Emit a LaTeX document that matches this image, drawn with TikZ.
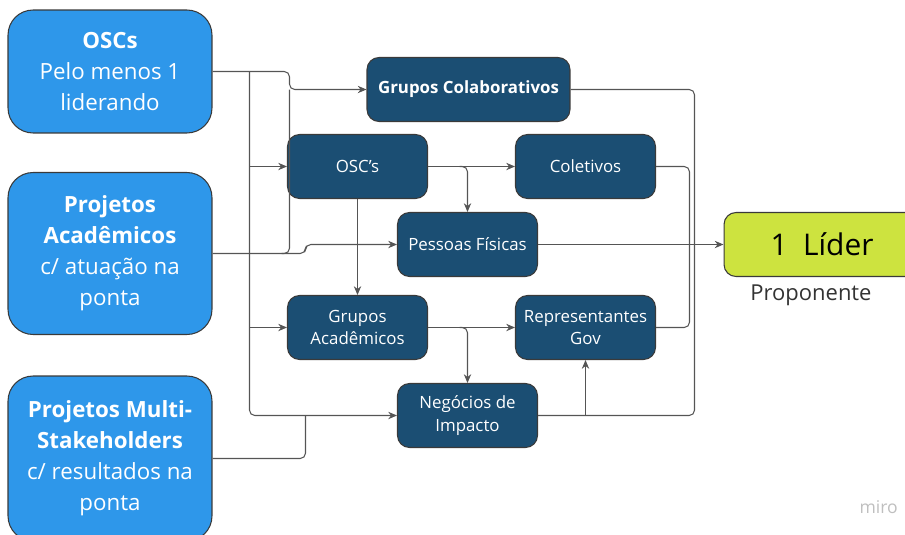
\documentclass[tikz,border=0pt]{standalone}
\usepackage{fontspec}
\setmainfont{Open Sans}
\usepackage{xcolor}
\usepackage{tikz}
\usetikzlibrary{positioning,calc,arrows.meta}

\definecolor{srcblue}{RGB}{46,151,234}
\definecolor{boxblue}{RGB}{27,78,115}
\definecolor{limegreen}{RGB}{205,227,63}
\definecolor{edgegray}{RGB}{58,58,58}
\definecolor{linkgray}{RGB}{85,85,85}

\tikzset{
    srcbox/.style={draw=edgegray, fill=srcblue, line width=0.6pt, rounded corners=0.5cm,
        minimum width=4.08cm, inner sep=0pt, text=white, align=center,
        font=\fontsize{12.7pt}{17.6pt}\selectfont},
    midbox/.style={draw=edgegray, fill=boxblue, line width=0.6pt, rounded corners=0.24cm,
        minimum width=2.8cm, minimum height=1.28cm, inner sep=0pt, text=white, align=center,
        font=\fontsize{9.6pt}{13pt}\selectfont},
    link/.style={draw=linkgray, line width=0.6pt, rounded corners=3pt},
    linkto/.style={link, -{Stealth[length=5pt,width=4.2pt]}}
}

\begin{document}
\begin{tikzpicture}[x=0.02cm, y=-0.02cm]
    \useasboundingbox (0,0) rectangle (905,534);
    \clip (0,0) rectangle (905,534);

    % Source boxes
    \node[srcbox, minimum height=2.46cm] (oscs) at (110,71.5) {\textbf{OSCs}\\Pelo menos 1\\liderando};
    \node[srcbox, minimum height=3.24cm] (projacad) at (110,253.5) {\textbf{Projetos}\\\textbf{Acadêmicos}\\c/ atuação na\\ponta};
    \node[srcbox, minimum height=3.3cm] (projmulti) at (110,458.5) {\textbf{Projetos Multi-}\\\textbf{Stakeholders}\\c/ resultados na\\ponta};

    % Middle boxes
    \node[midbox, minimum width=4.06cm] (grupocol) at (468.5,89.5) {\textbf{Grupos Colaborativos}};
    \node[midbox] (oscap) at (357.5,166.5) {OSC's};
    \node[midbox] (coletivos) at (585.5,166.5) {Coletivos};
    \node[midbox] (pessoas) at (467.5,244.5) {Pessoas Físicas};
    \node[midbox] (gacad) at (357.5,327.5) {Grupos\\Acadêmicos};
    \node[midbox] (repgov) at (585.5,327.5) {Representantes\\Gov};
    \node[midbox] (negocios) at (467.5,415.5) {Negócios de\\Impacto};

    % Leader
    \node[draw=edgegray, fill=limegreen, line width=0.6pt, rounded corners=0.24cm,
        minimum width=3.92cm, minimum height=1.28cm, inner sep=0pt,
        font=\fontsize{17pt}{20pt}\selectfont] (lider) at (822,244.5) {1\ \ Líder};
    \node[font=\fontsize{12.5pt}{15pt}\selectfont, text=black!80] (proponente) at (811,295) {Proponente};

    % Bus lines
    \coordinate (busA) at (249.5,0);
    \coordinate (busB) at (289.5,0);
    \coordinate (busC) at (305.5,0);
    \coordinate (busS) at (689.5,0);
    \coordinate (busR) at (694.5,0);

    % Sources to middle
    \draw[linkto] (oscs.east) -- (oscs.east -| busB) -- (busB |- grupocol.west) -- (grupocol.west);
    \draw[linkto] (oscs.east -| busA) -- (busA |- negocios.west) -- (negocios.west);
    \draw[linkto] (busA |- oscap.west) -- (oscap.west);
    \draw[linkto] (busA |- gacad.west) -- (gacad.west);
    \draw[link] ($(projacad.east -| busB)+(-8,0)$) -- (projacad.east -| busB) -- (busB |- grupocol.west);
    \draw[linkto] (projacad.east) -- (projacad.east -| busC) -- (busC |- pessoas.west) -- (pessoas.west);
    \draw[link] (projmulti.east) -- (projmulti.east -| busC) -- (busC |- negocios.west);

    % Between middle boxes
    \draw[linkto] (oscap.east) -- (coletivos.west);
    \draw[linkto] ($(oscap.east -| pessoas.north)+(-8,0)$) -- (oscap.east -| pessoas.north) -- (pessoas.north);
    \draw[linkto] (oscap.south) -- (gacad.north);
    \draw[linkto] (gacad.east) -- (repgov.west);
    \draw[linkto] ($(gacad.east -| negocios.north)+(-8,0)$) -- (gacad.east -| negocios.north) -- (negocios.north);
    \draw[link] (negocios.east) -- (negocios.east -| busR) -- (busR |- lider.west);
    \draw[linkto] (negocios.east -| repgov.south) -- (repgov.south);

    % Middle to leader
    \draw[linkto] (pessoas.east) -- (lider.west);
    \draw[link] (grupocol.east) -- (grupocol.east -| busR) -- (busR |- lider.west);
    \draw[link] (coletivos.east) -- (coletivos.east -| busS) -- (busS |- lider.west);
    \draw[link] (repgov.east) -- (repgov.east -| busS) -- (busS |- lider.west);

    % Watermark
    \node[anchor=east, text=black!25, font=\fontsize{10pt}{12pt}\selectfont] (miro) at (904,507) {miro};
\end{tikzpicture}
\end{document}
